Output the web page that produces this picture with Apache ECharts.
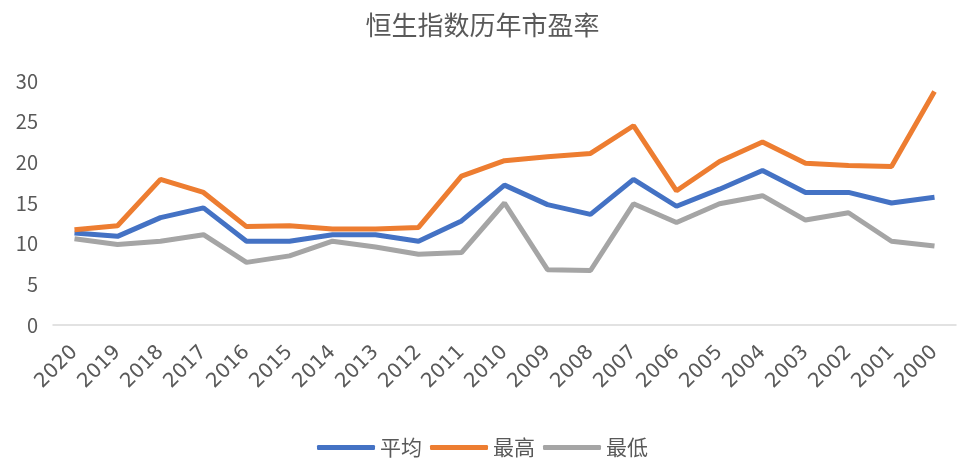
<!DOCTYPE html>
<html>
<head>
<meta charset="utf-8">
<script src="https://cdn.jsdelivr.net/npm/echarts@6/dist/echarts.min.js"></script>
<style>
  html, body { margin: 0; padding: 0; background: #fff; }
  #main { width: 965px; height: 461px; }
</style>
</head>
<body>
<div id="main"></div>
<script>
const years = ['2020', '2019', '2018', '2017', '2016', '2015', '2014', '2013', '2012', '2011', '2010',
  '2009', '2008', '2007', '2006', '2005', '2004', '2003', '2002', '2001', '2000'];
const avgPE = [11.3, 10.9, 13.2, 14.4, 10.3, 10.3, 11.1, 11.1, 10.3, 12.8, 17.2,
  14.8, 13.6, 17.9, 14.6, 16.7, 19.0, 16.3, 16.3, 15.0, 15.7];
const highPE = [11.7, 12.2, 17.9, 16.3, 12.1, 12.2, 11.8, 11.8, 12.0, 18.3, 20.2,
  20.7, 21.1, 24.5, 16.5, 20.1, 22.5, 19.9, 19.6, 19.5, 28.7];
const lowPE = [10.6, 9.9, 10.3, 11.1, 7.7, 8.5, 10.3, 9.6, 8.7, 8.9, 15.0,
  6.8, 6.7, 14.9, 12.6, 14.9, 15.9, 12.9, 13.8, 10.3, 9.7];

const font = '"Noto Sans CJK SC", "Noto Sans", sans-serif';

function lineSeries(name, data, color) {
  return {
    name: name,
    type: 'line',
    data: data,
    showSymbol: false,
    symbol: 'none',
    lineStyle: { width: 5, color: color },
    itemStyle: { color: color }
  };
}

const chart = echarts.init(document.getElementById('main'));
chart.setOption({
  animation: false,
  title: {
    text: '恒生指数历年市盈率',
    left: 'center',
    top: 7,
    textStyle: { fontFamily: font, fontSize: 26, fontWeight: 'normal', color: '#595959' }
  },
  legend: {
    top: 432,
    left: 'center',
    itemWidth: 58,
    itemHeight: 5,
    itemGap: 8,
    icon: 'roundRect',
    textStyle: { fontFamily: font, fontSize: 21, color: '#595959' },
    data: ['平均', '最高', '最低']
  },
  grid: { left: 53, right: 9, top: 81, bottom: 136, containLabel: false },
  xAxis: {
    type: 'category',
    data: years,
    boundaryGap: true,
    axisLine: { lineStyle: { color: '#d9d9d9', width: 1.5 } },
    axisTick: { show: false },
    axisLabel: { rotate: 45, fontFamily: '"DejaVu Sans", sans-serif', fontSize: 20, color: '#595959', margin: 24, interval: 0 }
  },
  yAxis: {
    type: 'value',
    min: 0,
    max: 30,
    interval: 5,
    axisLine: { show: false },
    axisTick: { show: false },
    splitLine: { show: false },
    axisLabel: { fontFamily: font, fontSize: 20, color: '#595959', margin: 15 }
  },
  series: [
    lineSeries('平均', avgPE, '#4472c4'),
    lineSeries('最高', highPE, '#ed7d31'),
    lineSeries('最低', lowPE, '#a5a5a5')
  ]
});
</script>
</body>
</html>
